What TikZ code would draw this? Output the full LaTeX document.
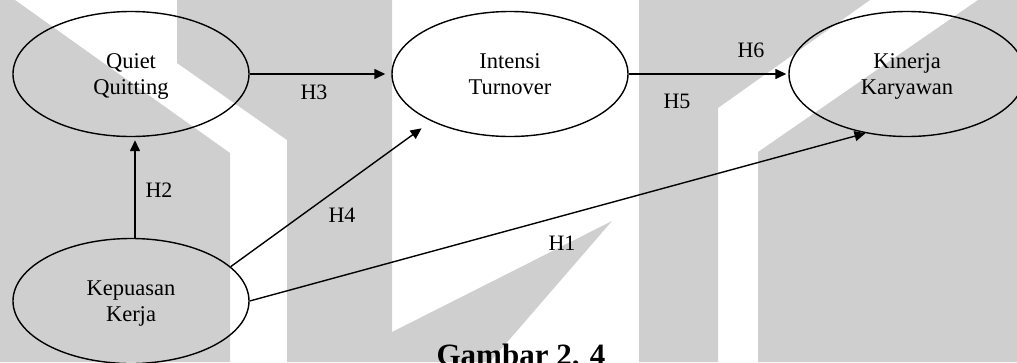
\documentclass[tikz,border=0pt]{standalone}
\usepackage{fontspec}
\setmainfont{Liberation Serif}
\usetikzlibrary{shapes.geometric}
\usetikzlibrary{arrows.meta}

\definecolor{watermark}{RGB}{207,207,207}
\tikzset{
    variabel/.style={ellipse, draw, line width=1.4pt, minimum width=236pt, minimum height=125pt,
        inner sep=0pt, align=center, text depth=0pt, font=\fontsize{22.5}{26.5}\selectfont},
    hipotesis/.style={inner sep=0pt, font=\fontsize{22}{26}\selectfont},
    panah/.style={-{Triangle[length=11pt,width=10pt]}, line width=1.4pt},
}

\begin{document}
\begin{tikzpicture}[x=1pt,y=1pt]
        \useasboundingbox (0,0) rectangle (1017,-362);
        \clip (0,0) rectangle (1017,-362);
        % watermark
        \fill[watermark] (0,0) -- (15,0) -- (230,-153) -- (230,-362) -- (0,-362) -- cycle;
        \fill[watermark] (177,0) -- (392,0) -- (392,-332) -- (612,-221) -- (490,-362)
            -- (287,-362) -- (287,-140) -- (177,-63) -- cycle;
        \fill[watermark] (639,0) -- (870,0) -- (718,-108) -- (718,-362) -- (639,-362) -- cycle;
        \fill[watermark] (978,0) -- (1017,0) -- (1017,-362) -- (758,-362) -- (758,-152) -- cycle;

        \node[variabel] (quiet) at (131,-74) {Quiet\\Quitting};
        \node[variabel] (intensi) at (510,-74) {Intensi\\Turnover};
        \node[variabel] (kinerja) at (907,-74) {Kinerja\\Karyawan};
        \node[variabel] (kepuasan) at (131,-301) {Kepuasan\\Kerja};

        \draw [panah, shorten >=6pt] (quiet.east) -- (intensi.west);
        \draw [panah, shorten >=2pt] (intensi.east) -- (kinerja.west);
        \draw [panah, shorten >=3pt] ([xshift=4pt]kepuasan.north) -- ([xshift=4pt]quiet.south);
        \draw [panah, shorten >=12pt] (kepuasan.19) -- (intensi.211);
        \draw [panah] (kepuasan.east) -- (kinerja.235);

        \node[hipotesis] (h1) at (562,-243) {H1};
        \node[hipotesis] (h2) at (159,-190) {H2};
        \node[hipotesis] (h3) at (314,-92) {H3};
        \node[hipotesis] (h4) at (342,-215) {H4};
        \node[hipotesis] (h5) at (677,-101) {H5};
        \node[hipotesis] (h6) at (751,-50) {H6};

        \node[anchor=base, font=\fontsize{31}{36}\bfseries] (judul) at (521,-365.5) {Gambar 2. 4};
\end{tikzpicture}
\end{document}
